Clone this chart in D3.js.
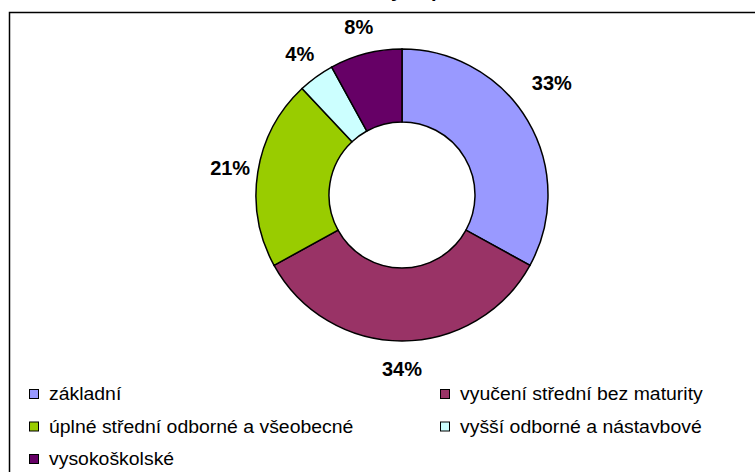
<!DOCTYPE html>
<html>
<head>
<meta charset="utf-8">
<script src="https://cdn.jsdelivr.net/npm/d3@7"></script>
<style>
    body { margin: 0; background: #fff; }
    text { font-family: "Liberation Sans", Arial, sans-serif; }
</style>
</head>
<body>
<svg id="chart" width="755" height="472"></svg>
<script>
// education categories and their share (%)
var categories = ["základní", "vyučení střední bez maturity", "úplné střední odborné a všeobecné", "vyšší odborné a nástavbové", "vysokoškolské"];
var shares = [33, 34, 21, 4, 8];
var colors = ["#9999FF", "#993366", "#99CC00", "#CCFFFF", "#660066"];
var title = "Struktura nezaměstnaných podle vzdělání, ČR, 2008, v %";

var svg = d3.select("#chart");

// title is cut off at the top of the picture, only descenders show
svg.append("text")
    .attr("x", 440).attr("y", -3.5)
    .attr("text-anchor", "middle")
    .style("font-weight", "bold").style("font-size", "20px")
    .text(title);

// chart frame (runs off right and bottom edge)
svg.append("rect")
    .attr("x", 9.5).attr("y", 12.5)
    .attr("width", 800).attr("height", 500)
    .attr("fill", "#fff").attr("stroke", "#000").attr("stroke-width", 1.5);

var cx = 402, cy = 195, outerR = 146, innerR = 73, labelR = 174;

var pie = d3.pie().sort(null).value(d => d);
var arc = d3.arc().innerRadius(innerR).outerRadius(outerR);
var labelArc = d3.arc().innerRadius(labelR).outerRadius(labelR);

// Excel moved the first label a bit
var labelNudge = { 0: [0, -24] };

var g = svg.append("g").attr("transform", "translate(" + cx + "," + cy + ")");
var arcs = pie(shares);

g.selectAll("path.slice")
    .data(arcs)
    .enter().append("path")
    .attr("class", "slice")
    .attr("d", arc)
    .attr("fill", (d, i) => colors[i])
    .attr("stroke", "#000").attr("stroke-width", 1.5);

g.selectAll("text.lbl")
    .data(arcs)
    .enter().append("text")
    .attr("class", "lbl")
    .attr("transform", function(d, i) {
        var c = labelArc.centroid(d);
        var n = labelNudge[i] || [0, 0];
        return "translate(" + (c[0] + n[0]) + "," + (c[1] + n[1]) + ")";
    })
    .attr("text-anchor", "middle")
    .attr("dy", "0.36em")
    .style("font-weight", "bold").style("font-size", "20px")
    .text(d => d.value + "%");

// legend, two columns
var colX = [29, 440], rowY = 389, rowH = 32.5;
var legend = svg.selectAll("g.leg")
    .data(categories)
    .enter().append("g")
    .attr("class", "leg")
    .attr("transform", (d, i) => "translate(" + colX[i % 2] + "," + (rowY + Math.floor(i / 2) * rowH) + ")");

legend.append("rect")
    .attr("x", 0.5).attr("y", 0.5)
    .attr("width", 9).attr("height", 9)
    .attr("fill", (d, i) => colors[i])
    .attr("stroke", "#000").attr("stroke-width", 1);

legend.append("text")
    .attr("transform", "translate(20,11) scale(1.05,1)")
    .style("font-size", "18.5px")
    .text(d => d);
</script>
</body>
</html>
